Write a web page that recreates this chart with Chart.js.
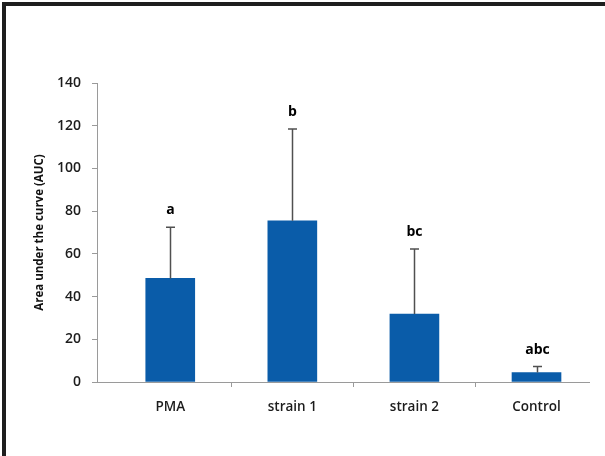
<!DOCTYPE html>
<html>
<head>
<meta charset="utf-8">
<script src="https://cdn.jsdelivr.net/npm/chart.js@4.4.1/dist/chart.umd.min.js"></script>
<style>
  html, body { margin: 0; padding: 0; background: #fff; }
  #wrap { position: relative; width: 605px; height: 456px; overflow: hidden; background: #fff; }
  #frame { position: absolute; left: 2px; top: 2px; right: -10px; bottom: -10px;
           border-left: 4px solid #1e1e1e; border-top: 4px solid #1e1e1e; pointer-events: none; }
  canvas { position: absolute; left: 0; top: 0; }
</style>
</head>
<body>
<div id="wrap">
  <canvas id="auc" width="605" height="456"></canvas>
  <div id="frame"></div>
</div>
<script>
// Groups on the x axis
const categories = ['PMA', 'strain 1', 'strain 2', 'Control'];
// Mean area under the curve per group
const aucMeans = [48.5, 75.5, 31.8, 4.4];
// Upper error (SD) per group
const aucSD = [24.0, 43.0, 30.5, 2.8];
// Significance letters shown above each error bar
const groupLetters = ['a', 'b', 'bc', 'abc'];
// Y axis tick values
const yTickValues = [0, 20, 40, 60, 80, 100, 120, 140];

const AXIS_GRAY = '#9a9a9a';
const TEXT_DARK = '#1c1c1c';
const BAR_BLUE = '#0a5ca9';

// x positions: category centres at integers, separators between them
const xSlots = [];
categories.forEach((c, i) => {
  xSlots.push(i);
  if (i < categories.length - 1) xSlots.push(i + 0.5);
});

const errorBarPlugin = {
  id: 'errorBarsAndLetters',
  afterDatasetsDraw(chart) {
    const { ctx, scales: { x, y } } = chart;
    ctx.save();
    ctx.strokeStyle = '#505050';
    ctx.lineWidth = 1.5;
    ctx.fillStyle = '#000';
    ctx.font = "bold 14px 'Open Sans'";
    ctx.textAlign = 'center';
    ctx.textBaseline = 'alphabetic';
    aucMeans.forEach((m, i) => {
      const px = Math.round(x.getPixelForValue(i)) + 0.5;
      const yMean = y.getPixelForValue(m);
      const yTop = y.getPixelForValue(m + aucSD[i]);
      ctx.beginPath();
      ctx.moveTo(px, yMean);
      ctx.lineTo(px, yTop);
      ctx.moveTo(px - 4.5, yTop);
      ctx.lineTo(px + 4.5, yTop);
      ctx.stroke();
      ctx.fillText(groupLetters[i], px, yTop - 13);
    });
    ctx.restore();
  }
};

new Chart(document.getElementById('auc'), {
  type: 'bar',
  data: {
    datasets: [{
      data: categories.map((c, i) => ({ x: i, y: aucMeans[i] })),
      backgroundColor: BAR_BLUE,
      borderWidth: 0,
      barThickness: 49
    }]
  },
  options: {
    responsive: false,
    animation: false,
    layout: { padding: { left: 0, top: 83, right: 16, bottom: 0 } },
    plugins: { legend: { display: false }, tooltip: { enabled: false } },
    scales: {
      x: {
        type: 'linear',
        offset: false,
        min: -0.6,
        max: 3.43,
        afterBuildTicks(scale) { scale.ticks = xSlots.map(v => ({ value: v })); },
        afterFit(scale) { scale.height = 74; },
        ticks: {
          autoSkip: false,
          maxRotation: 0,
          padding: 12,
          color: TEXT_DARK,
          font: { family: 'Open Sans', size: 13.5, weight: '600' },
          callback: (v) => Number.isInteger(v) ? categories[v] : ''
        },
        grid: {
          offset: false,
          drawOnChartArea: false,
          tickLength: 5,
          color: (ctx) => (ctx.tick && Number.isInteger(ctx.tick.value)) ? 'rgba(0,0,0,0)' : AXIS_GRAY
        },
        border: { color: AXIS_GRAY, width: 1 }
      },
      y: {
        min: 0,
        max: 140,
        afterBuildTicks(scale) { scale.ticks = yTickValues.map(v => ({ value: v })); },
        afterFit(scale) { scale.width = 97; },
        ticks: {
          padding: 11,
          color: TEXT_DARK,
          font: { family: 'Open Sans', size: 14, weight: '600' }
        },
        grid: { drawOnChartArea: false, tickLength: 5, color: AXIS_GRAY },
        border: { color: AXIS_GRAY, width: 1 },
        title: {
          display: true,
          text: 'Area under the curve (AUC)',
          color: '#111',
          font: { family: 'Open Sans', size: 11.5, weight: 'bold' },
          padding: { top: 33, bottom: 0 }
        }
      }
    }
  },
  plugins: [errorBarPlugin]
});
</script>
</body>
</html>
